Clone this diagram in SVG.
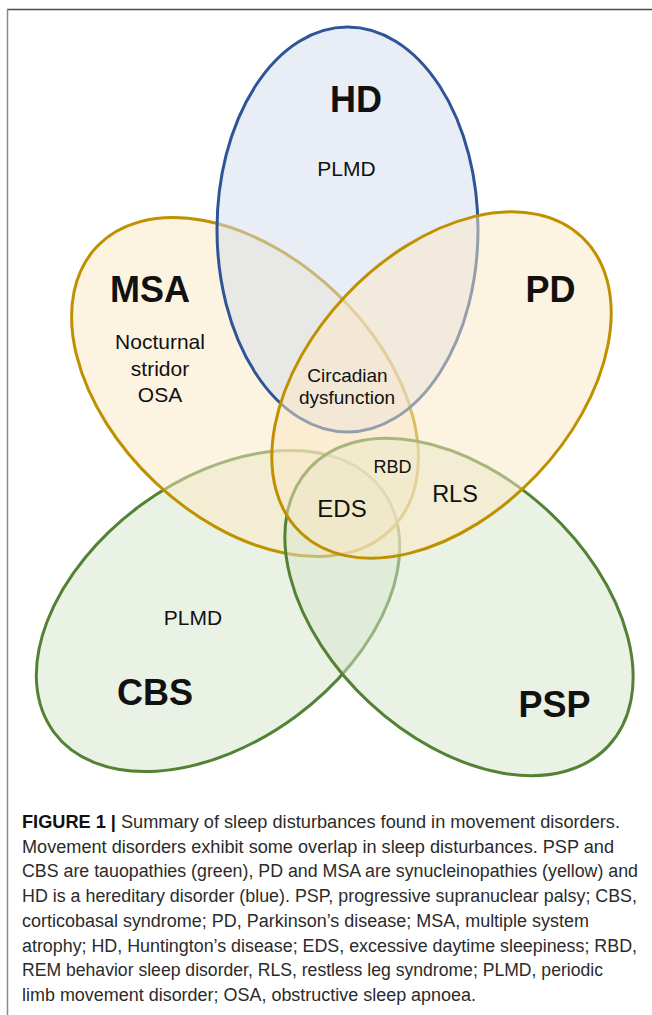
<svg xmlns="http://www.w3.org/2000/svg" width="652" height="1015" viewBox="0 0 652 1015">
<style>
.lbl{font-family:"Liberation Sans",Arial,sans-serif;fill:#111;text-anchor:middle}
.big{font-weight:bold;font-size:36px}
.sm{font-size:21px}
.cap{font-family:"Liberation Sans",Arial,sans-serif;font-size:18px;fill:#2b2b2b}
.hd{fill:#d3ddee;fill-opacity:0.5;stroke:#2f5597;stroke-width:3}
.yl{fill:#fbe8c4;fill-opacity:0.5;stroke:#bf9000;stroke-width:3}
.gr{fill:#d5e6cb;fill-opacity:0.5;stroke:#548235;stroke-width:3}
</style>
<rect width="652" height="1015" fill="#fff"/>
<line x1="7" y1="9.5" x2="652" y2="9.5" stroke="#4a4a4a" stroke-width="1.5"/>
<line x1="7.5" y1="9" x2="7.5" y2="1015" stroke="#8a8a8a" stroke-width="1.5"/>
<g id="CBS"><ellipse class="gr" cx="218" cy="611" rx="204" ry="131" transform="rotate(-36.4 218 611)"/></g>
<g id="MSA"><ellipse class="yl" cx="245" cy="387" rx="204" ry="131" transform="rotate(43.4 245 387)"/></g>
<g id="PSP"><ellipse class="gr" cx="459" cy="607" rx="204" ry="131" transform="rotate(42.8 459 607)"/></g>
<g id="HD"><ellipse class="hd" cx="347.5" cy="229.5" rx="130.5" ry="202.5"/></g>
<g id="PD"><ellipse class="yl" cx="441.5" cy="385" rx="204" ry="131" transform="rotate(-46.4 441.5 385)"/></g>
<g id="labels">
<text class="lbl big" x="356" y="112">HD</text>
<text class="lbl sm" x="346.5" y="176">PLMD</text>
<text class="lbl big" x="150" y="302">MSA</text>
<text class="lbl sm" x="160" y="349">Nocturnal</text>
<text class="lbl sm" x="160" y="375.5">stridor</text>
<text class="lbl sm" x="160" y="402">OSA</text>
<text class="lbl big" x="550.5" y="302">PD</text>
<text class="lbl" font-size="19" x="347.5" y="382">Circadian</text>
<text class="lbl" font-size="19" x="347" y="404">dysfunction</text>
<text class="lbl" font-size="18" x="392.5" y="473">RBD</text>
<text class="lbl" font-size="24" x="342" y="517">EDS</text>
<text class="lbl" font-size="23.5" x="455" y="502">RLS</text>
<text class="lbl sm" x="193" y="625">PLMD</text>
<text class="lbl big" x="155" y="705">CBS</text>
<text class="lbl big" x="554.5" y="717">PSP</text>
</g>
<g id="caption">
<text class="cap" x="22" y="828" textLength="598" lengthAdjust="spacingAndGlyphs"><tspan font-weight="bold" fill="#111">FIGURE 1 |</tspan> Summary of sleep disturbances found in movement disorders.</text>
<text class="cap" x="22" y="852.7" textLength="592" lengthAdjust="spacingAndGlyphs">Movement disorders exhibit some overlap in sleep disturbances. PSP and</text>
<text class="cap" x="22" y="877.4" textLength="616" lengthAdjust="spacingAndGlyphs">CBS are tauopathies (green), PD and MSA are synucleinopathies (yellow) and</text>
<text class="cap" x="22" y="902.1" textLength="615" lengthAdjust="spacingAndGlyphs">HD is a hereditary disorder (blue). PSP, progressive supranuclear palsy; CBS,</text>
<text class="cap" x="22" y="926.8" textLength="567" lengthAdjust="spacingAndGlyphs">corticobasal syndrome; PD, Parkinson’s disease; MSA, multiple system</text>
<text class="cap" x="22" y="951.5" textLength="615" lengthAdjust="spacingAndGlyphs">atrophy; HD, Huntington’s disease; EDS, excessive daytime sleepiness; RBD,</text>
<text class="cap" x="22" y="976.2" textLength="581" lengthAdjust="spacingAndGlyphs">REM behavior sleep disorder, RLS, restless leg syndrome; PLMD, periodic</text>
<text class="cap" x="22" y="1000.9" textLength="454" lengthAdjust="spacingAndGlyphs">limb movement disorder; OSA, obstructive sleep apnoea.</text>
</g>
</svg>
